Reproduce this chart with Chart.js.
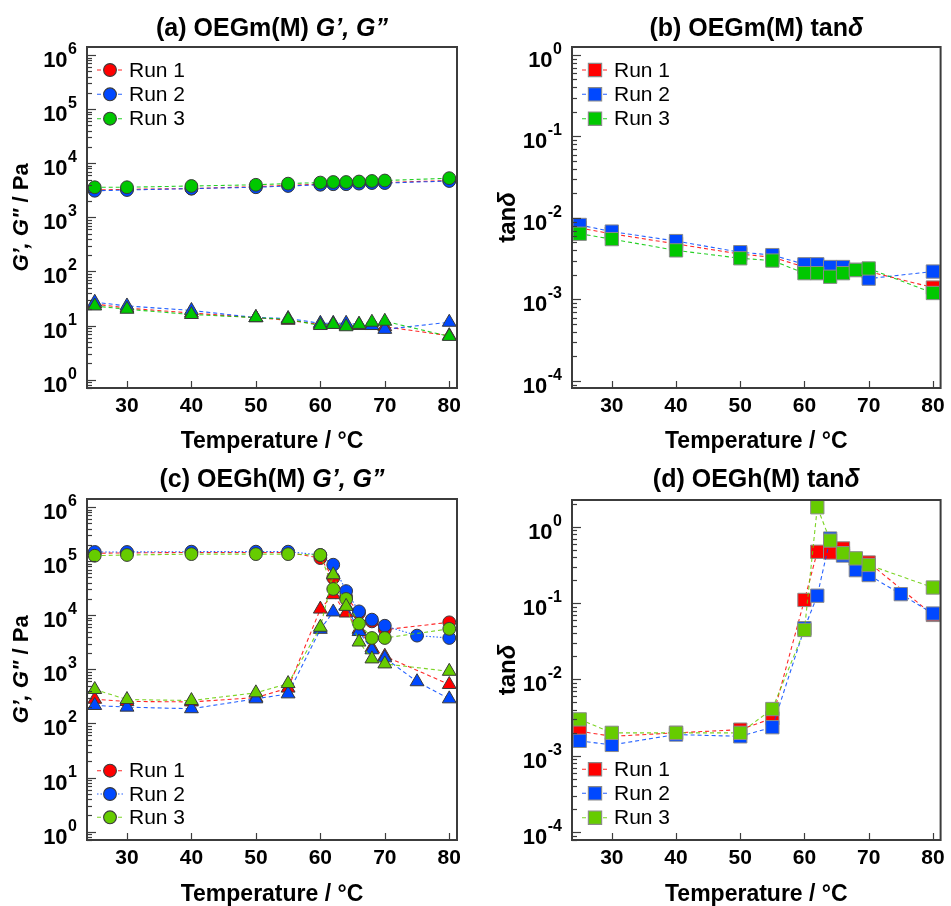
<!DOCTYPE html>
<html>
<head>
<meta charset="utf-8">
<title>OEGm(M) / OEGh(M) rheology</title>
<script src="https://cdn.jsdelivr.net/npm/chart.js@4.4.0/dist/chart.umd.min.js"></script>
<style>
  body { margin: 0; background: #fff; }
  #wrap { position: relative; width: 951px; height: 906px; overflow: hidden; }
  #wrap canvas { position: absolute; }
</style>
</head>
<body>
<div id="wrap">
  <canvas id="chartA" width="475" height="460" style="left:0;top:0"></canvas>
  <canvas id="chartB" width="476" height="460" style="left:475px;top:0"></canvas>
  <canvas id="chartC" width="475" height="456" style="left:0;top:450px"></canvas>
  <canvas id="chartD" width="476" height="456" style="left:475px;top:450px"></canvas>
</div>
<script>
const FONT = "'Liberation Sans', Arial, Helvetica, sans-serif";

// temperatures, °C
const tempM = [25, 30, 40, 50, 55, 60, 62, 64, 66, 68, 70, 80];
const tempH = [25, 30, 40, 50, 55, 60, 62, 64, 66, 68, 70, 80];
const tempH2 = [25, 30, 40, 50, 55, 60, 62, 64, 66, 68, 70, 75, 80];   // run 2 has an extra 75 °C point
const xTicks = [30, 40, 50, 60, 70, 80];
const runLabels = ['Run 1', 'Run 2', 'Run 3'];

// OEGm(M): G', G'' (Pa) and tan delta
const gpM1 = [3200, 3300, 3400, 3700, 3900, 4100, 4200, 4200, 4300, 4400, 4400, 4800];
const gpM2 = [3100, 3200, 3400, 3600, 3800, 4000, 4100, 4100, 4200, 4300, 4300, 4700];
const gpM3 = [3600, 3600, 3800, 4000, 4200, 4400, 4500, 4500, 4600, 4700, 4800, 5300];
const gppM1 = [25, 21, 17, 14, 12.5, 10.5, 10.5, 10, 10, 10, 9.5, 6.5];
const gppM2 = [27, 23, 19, 14, 13.5, 11, 11, 11, 10.5, 10, 8.5, 11.5];
const gppM3 = [23, 20, 16, 14, 13, 10, 10.5, 9.5, 10.5, 11.5, 12, 6.3];
const tanM1 = [0.0075, 0.0064, 0.0048, 0.0036, 0.0033, 0.0025, 0.0025, 0.0024, 0.0024, 0.0023, 0.0022, 0.0014];
const tanM2 = [0.0082, 0.0068, 0.0052, 0.0038, 0.0035, 0.0027, 0.0027, 0.0025, 0.0025, 0.0023, 0.0018, 0.0022];
const tanM3 = [0.0064, 0.0055, 0.0040, 0.0032, 0.0030, 0.0021, 0.0021, 0.0019, 0.0021, 0.0023, 0.0024, 0.0012];

// OEGh(M): G', G'' (Pa) and tan delta
const gpH1 = [140000, 142000, 145000, 145000, 145000, 114000, 49000, 22000, 11000, 7700, 5400, 7400];
const gpH2 = [148000, 148000, 150000, 150000, 150000, 130000, 86000, 28000, 11800, 8300, 6400, 4200, 3800];
const gpH3 = [126000, 130000, 135000, 135000, 135000, 130000, 30600, 20000, 7000, 3800, 3800, 5600];
const gppH1 = [280, 255, 250, 300, 450, 13000, 24000, 11000, 5500, 2500, 1750, 525];
const gppH2 = [215, 200, 187, 285, 352, 5500, 11500, 15000, 5000, 2300, 1630, 590, 285];
const gppH3 = [424, 277, 265, 368, 546, 6000, 56000, 14600, 3200, 1560, 1260, 920];
const tanH1 = [0.0021, 0.0018, 0.0020, 0.0022, 0.0031, 0.11, 0.47, 0.46, 0.52, 0.38, 0.34, 0.070];
const tanH2 = [0.00157, 0.00139, 0.0019, 0.0018, 0.00237, 0.047, 0.125, 0.70, 0.42, 0.27, 0.233, 0.131, 0.073];
const tanH3 = [0.0030, 0.0020, 0.0020, 0.0020, 0.0041, 0.0445, 1.8, 0.66, 0.45, 0.385, 0.316, 0.16];

const RED = '#ff0000', BLUE = '#0048ff', GREEN = '#00c800', LIME = '#66cc00';
const DASH = [4, 3], DOT = [1.5, 2];

function pts(xs, ys) {
  return xs.map((x, i) => ({ x: x, y: ys[i] }));
}

function hexA(hex, a) {
  const n = parseInt(hex.slice(1), 16);
  return 'rgba(' + (n >> 16) + ',' + ((n >> 8) & 255) + ',' + (n & 255) + ',' + a + ')';
}

function series(label, xs, ys, color, style, order, dash, legendRow) {
  const r = style === 'rect' ? 9.4 : style === 'triangle' ? 8 : 6.4;
  return {
    label: label,
    data: pts(xs, ys),
    borderColor: hexA(color, 0.85),
    borderWidth: 1.1,
    borderDash: dash || DASH,
    backgroundColor: color,
    pointStyle: style,
    pointRadius: r,
    pointHoverRadius: r,
    pointBackgroundColor: color,
    pointBorderColor: style === 'rect' ? '#8a8a8a' : '#3a3a3a',
    pointBorderWidth: 1,
    tension: 0,
    clip: false,
    order: order,
    legendRow: legendRow
  };
}

// mixed bold / bold-italic text, centred on cx
function mixed(ctx, parts, cx, y) {
  let w = 0;
  parts.forEach(p => { ctx.font = p[1]; w += ctx.measureText(p[0]).width; });
  let x = cx - w / 2;
  ctx.textAlign = 'left';
  parts.forEach(p => { ctx.font = p[1]; ctx.fillText(p[0], x, y); x += ctx.measureText(p[0]).width; });
}

const B25 = 'bold 25px ' + FONT, BI25 = 'italic bold 25px ' + FONT;
const B22 = 'bold 22px ' + FONT, BI22 = 'italic bold 22px ' + FONT;
const B24 = 'bold 24px ' + FONT, BI24 = 'italic bold 24px ' + FONT;

// frame, inward ticks, 10^n labels, titles and the run legend
function decor(cfg) {
  return {
    id: 'decor',
    afterDraw(chart) {
      const ctx = chart.ctx, a = chart.chartArea;
      const xs = chart.scales.x, ys = chart.scales.y;
      ctx.save();
      ctx.strokeStyle = '#3c3c3c';
      ctx.lineWidth = 1.2;
      for (let e = cfg.decades[0] - 1; e <= cfg.decades[1]; e++) {
        for (let m = 1; m <= 9; m++) {
          const v = m * Math.pow(10, e);
          if (v < ys.min || v > ys.max) continue;
          const py = Math.round(ys.getPixelForValue(v)) + 0.5;
          ctx.beginPath();
          ctx.moveTo(a.left, py);
          ctx.lineTo(a.left + (m === 1 ? 9 : 5), py);
          ctx.stroke();
        }
      }
      xTicks.forEach(v => {
        const px = Math.round(xs.getPixelForValue(v)) + 0.5;
        ctx.beginPath();
        ctx.moveTo(px, a.bottom);
        ctx.lineTo(px, a.bottom - 7);
        ctx.stroke();
      });
      ctx.lineWidth = 2;
      ctx.strokeRect(a.left, a.top, a.right - a.left, a.bottom - a.top);

      // y tick labels 10^n
      ctx.fillStyle = '#000';
      ctx.textBaseline = 'alphabetic';
      ctx.textAlign = 'right';
      for (let e = cfg.decades[0]; e <= cfg.decades[1]; e++) {
        const py = ys.getPixelForValue(Math.pow(10, e));
        const right = a.left - 10;
        ctx.font = 'bold 16px ' + FONT;
        const ew = ctx.measureText(String(e)).width;
        ctx.fillText(String(e), right, py - 1);
        ctx.font = 'bold 22px ' + FONT;
        ctx.fillText('10', right - ew - 0.5, py + 12);
      }

      // panel title
      const cx = (a.left + a.right) / 2;
      mixed(ctx, cfg.title, cx, cfg.titleY);
      // x axis title
      ctx.font = 'bold 23px ' + FONT;
      ctx.textAlign = 'center';
      ctx.fillText('Temperature / °C', cx, cfg.xTitleY);
      // y axis title
      ctx.save();
      ctx.translate(cfg.yTitleX, (a.top + a.bottom) / 2);
      ctx.rotate(-Math.PI / 2);
      ctx.textBaseline = 'middle';
      mixed(ctx, cfg.yTitle, 0, 0);
      ctx.restore();

      // legend rows
      chart.data.datasets.forEach(d => {
        if (d.legendRow === undefined) return;
        const lx = cfg.legend.x, ly = cfg.legend.ys[d.legendRow];
        ctx.setLineDash(d.borderDash);
        ctx.strokeStyle = d.borderColor;
        ctx.lineWidth = d.borderWidth;
        ctx.beginPath();
        ctx.moveTo(lx - 13, ly);
        ctx.lineTo(lx + 13, ly);
        ctx.stroke();
        ctx.setLineDash([]);
        ctx.fillStyle = d.pointBackgroundColor;
        ctx.strokeStyle = d.pointBorderColor;
        Chart.helpers.drawPoint(ctx, {
          pointStyle: d.pointStyle, radius: d.pointRadius, rotation: 0, borderWidth: d.pointBorderWidth
        }, lx, ly);
        ctx.fillStyle = '#000';
        ctx.font = '21px ' + FONT;
        ctx.textAlign = 'left';
        ctx.textBaseline = 'middle';
        ctx.fillText(d.label, lx + 19, ly + 1);
      });
      ctx.restore();
    }
  };
}

function panel(id, cfg) {
  const cv = document.getElementById(id);
  const W = cv.width, H = cv.height, ar = cfg.area;
  new Chart(cv, {
    type: 'line',
    data: { datasets: cfg.datasets },
    options: {
      responsive: false,
      animation: false,
      events: [],
      layout: { padding: { top: ar.top, right: W - ar.right, left: 0, bottom: 0 } },
      plugins: { legend: { display: false }, title: { display: false }, tooltip: { enabled: false } },
      scales: {
        x: {
          type: 'linear',
          min: 23.8,
          max: 81.2,
          grid: { display: false, drawTicks: false },
          border: { display: false },
          afterBuildTicks: s => { s.ticks = xTicks.map(v => ({ value: v })); },
          afterFit: s => { s.height = H - ar.bottom; },
          ticks: {
            color: '#000', padding: 6, maxRotation: 0, autoSkip: false,
            font: { family: FONT, size: 21, weight: 'bold' }
          }
        },
        y: {
          type: 'logarithmic',
          min: cfg.ymin,
          max: cfg.ymax,
          grid: { display: false, drawTicks: false },
          border: { display: false },
          ticks: { display: false },
          afterFit: s => { s.width = ar.left; }
        }
      }
    },
    plugins: [decor(cfg)]
  });
}

const GG = [['G’, G"', BI22], [' / Pa', B22]];
const TAN = [['tan', B24], ['δ', BI24]];

panel('chartA', {
  area: { left: 87, top: 47, right: 457, bottom: 388 },
  ymin: 0.74, ymax: 1.41e6, decades: [0, 6],
  title: [['(a) OEGm(M) ', B25], ['G’, G”', BI25]], titleY: 36, xTitleY: 448,
  yTitle: GG, yTitleX: 22,
  legend: { x: 110, ys: [70, 94.3, 118.7] },
  datasets: [
    series(runLabels[0], tempM, gpM1, RED, 'circle', 6, DASH, 0),
    series(runLabels[0], tempM, gppM1, RED, 'triangle', 5),
    series(runLabels[1], tempM, gpM2, BLUE, 'circle', 4, DASH, 1),
    series(runLabels[1], tempM, gppM2, BLUE, 'triangle', 3),
    series(runLabels[2], tempM, gpM3, GREEN, 'circle', 2, DASH, 2),
    series(runLabels[2], tempM, gppM3, GREEN, 'triangle', 1)
  ]
});

panel('chartB', {
  area: { left: 97, top: 47, right: 467, bottom: 388 },
  ymin: 8.2e-5, ymax: 1.25, decades: [-4, 0],
  title: [['(b) OEGm(M) tan', B25], ['δ', BI25]], titleY: 36, xTitleY: 448,
  yTitle: TAN, yTitleX: 33,
  legend: { x: 120, ys: [70, 94.3, 118.7] },
  datasets: [
    series(runLabels[0], tempM, tanM1, RED, 'rect', 3, DASH, 0),
    series(runLabels[1], tempM, tanM2, BLUE, 'rect', 2, DASH, 1),
    series(runLabels[2], tempM, tanM3, GREEN, 'rect', 1, DASH, 2)
  ]
});

panel('chartC', {
  area: { left: 87, top: 49, right: 457, bottom: 390 },
  ymin: 0.72, ymax: 1.41e6, decades: [0, 6],
  title: [['(c) OEGh(M) ', B25], ['G’, G”', BI25]], titleY: 37, xTitleY: 451,
  yTitle: GG, yTitleX: 22,
  legend: { x: 110, ys: [320.7, 344, 367.3] },
  datasets: [
    series(runLabels[0], tempH, gpH1, RED, 'circle', 6, DASH, 0),
    series(runLabels[0], tempH, gppH1, RED, 'triangle', 5),
    series(runLabels[1], tempH2, gpH2, BLUE, 'circle', 4, DOT, 1),
    series(runLabels[1], tempH2, gppH2, BLUE, 'triangle', 3),
    series(runLabels[2], tempH, gpH3, LIME, 'circle', 2, DASH, 2),
    series(runLabels[2], tempH, gppH3, LIME, 'triangle', 1)
  ]
});

panel('chartD', {
  area: { left: 97, top: 50, right: 467, bottom: 390 },
  ymin: 7.9e-5, ymax: 2.24, decades: [-4, 0],
  title: [['(d) OEGh(M) tan', B25], ['δ', BI25]], titleY: 37, xTitleY: 451,
  yTitle: TAN, yTitleX: 33,
  legend: { x: 120, ys: [319.3, 343.3, 367.7] },
  datasets: [
    series(runLabels[0], tempH, tanH1, RED, 'rect', 3, DASH, 0),
    series(runLabels[1], tempH2, tanH2, BLUE, 'rect', 2, DASH, 1),
    series(runLabels[2], tempH, tanH3, LIME, 'rect', 1, DASH, 2)
  ]
});
</script>
</body>
</html>
